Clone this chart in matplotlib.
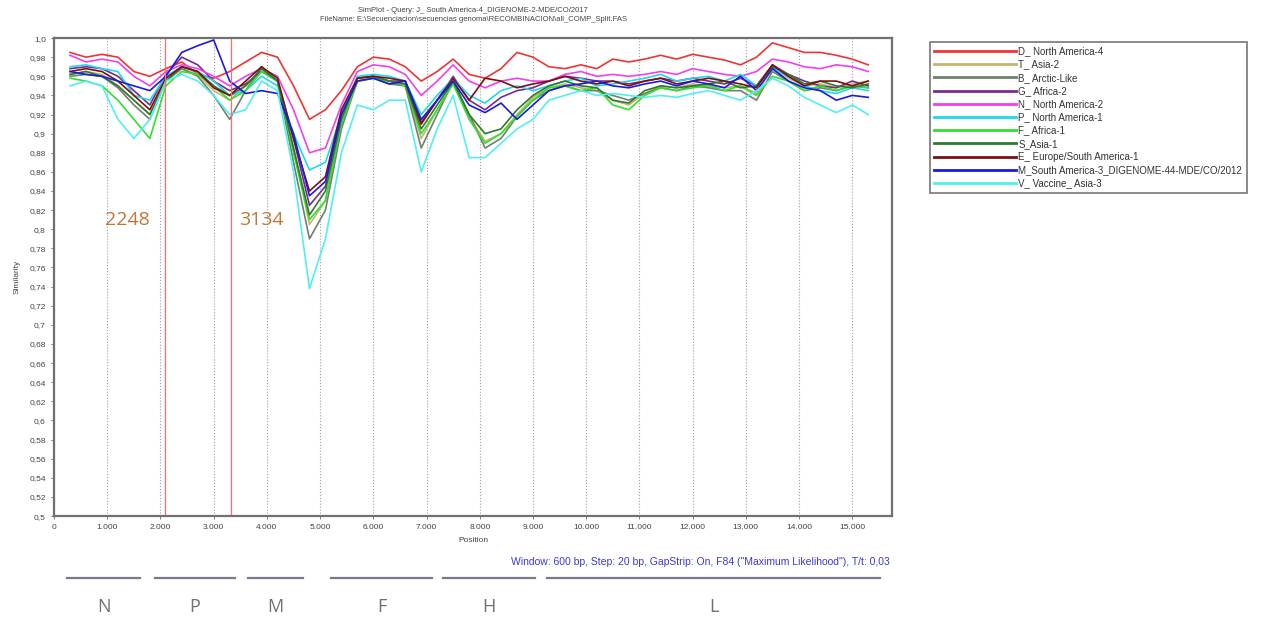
import matplotlib.pyplot as plt
from matplotlib.transforms import blended_transform_factory

plt.rcParams['font.family'] = ['Liberation Sans', 'DejaVu Sans']

pos = [300, 600, 900, 1200, 1500, 1800, 2100, 2400, 2700, 3000,
       3300, 3600, 3900, 4200, 4500, 4800, 5100, 5400, 5700, 6000,
       6300, 6600, 6900, 7200, 7500, 7800, 8100, 8400, 8700, 9000,
       9300, 9600, 9900, 10200, 10500, 10800, 11100, 11400, 11700, 12000,
       12300, 12600, 12900, 13200, 13500, 13800, 14100, 14400, 14700, 15000,
       15300]

d_na4 = [0.985, 0.980, 0.983, 0.980, 0.965, 0.960, 0.968, 0.975, 0.962, 0.958,
         0.965, 0.975, 0.985, 0.980, 0.950, 0.915, 0.925, 0.945, 0.970, 0.980,
         0.978, 0.970, 0.955, 0.965, 0.978, 0.962, 0.958, 0.968, 0.985, 0.980,
         0.970, 0.968, 0.972, 0.968, 0.978, 0.975, 0.978, 0.982, 0.978, 0.983,
         0.980, 0.977, 0.972, 0.980, 0.995, 0.990, 0.985, 0.985, 0.982, 0.978,
         0.972]
t_asia2 = [0.962, 0.965, 0.962, 0.950, 0.935, 0.920, 0.958, 0.968, 0.962, 0.945,
           0.935, 0.950, 0.968, 0.955, 0.885, 0.805, 0.830, 0.912, 0.955, 0.958,
           0.955, 0.950, 0.895, 0.925, 0.955, 0.918, 0.892, 0.900, 0.920, 0.938,
           0.948, 0.952, 0.948, 0.945, 0.935, 0.930, 0.942, 0.950, 0.948, 0.952,
           0.950, 0.948, 0.950, 0.942, 0.968, 0.958, 0.950, 0.952, 0.948, 0.952,
           0.955]
b_arctic = [0.960, 0.962, 0.960, 0.948, 0.930, 0.915, 0.955, 0.968, 0.960, 0.940,
            0.915, 0.945, 0.970, 0.955, 0.870, 0.790, 0.820, 0.905, 0.955, 0.958,
            0.952, 0.950, 0.885, 0.920, 0.955, 0.920, 0.885, 0.895, 0.918, 0.935,
            0.945, 0.950, 0.945, 0.945, 0.940, 0.935, 0.942, 0.948, 0.945, 0.950,
            0.948, 0.945, 0.945, 0.935, 0.965, 0.955, 0.945, 0.948, 0.945, 0.950,
            0.948]
g_africa2 = [0.968, 0.970, 0.968, 0.960, 0.945, 0.930, 0.962, 0.980, 0.972, 0.955,
             0.945, 0.952, 0.965, 0.955, 0.895, 0.825, 0.845, 0.920, 0.958, 0.960,
             0.955, 0.955, 0.912, 0.935, 0.960, 0.935, 0.925, 0.938, 0.945, 0.948,
             0.955, 0.960, 0.958, 0.955, 0.955, 0.952, 0.955, 0.958, 0.955, 0.958,
             0.955, 0.952, 0.958, 0.950, 0.972, 0.962, 0.955, 0.950, 0.948, 0.955,
             0.950]
n_na2 = [0.982, 0.975, 0.978, 0.975, 0.960, 0.950, 0.965, 0.972, 0.968, 0.960,
         0.950, 0.960, 0.968, 0.960, 0.925, 0.880, 0.885, 0.930, 0.965, 0.972,
         0.970, 0.962, 0.940, 0.955, 0.972, 0.955, 0.948, 0.955, 0.958, 0.955,
         0.955, 0.962, 0.965, 0.960, 0.962, 0.960, 0.962, 0.965, 0.962, 0.968,
         0.965, 0.962, 0.960, 0.965, 0.978, 0.975, 0.970, 0.968, 0.972, 0.970,
         0.965]
p_na1 = [0.970, 0.972, 0.968, 0.965, 0.940, 0.935, 0.960, 0.970, 0.965, 0.955,
         0.940, 0.945, 0.960, 0.950, 0.900, 0.862, 0.870, 0.920, 0.960, 0.962,
         0.960, 0.955, 0.920, 0.940, 0.958, 0.940, 0.932, 0.945, 0.950, 0.945,
         0.950, 0.955, 0.958, 0.950, 0.952, 0.955, 0.958, 0.962, 0.955, 0.958,
         0.960, 0.955, 0.962, 0.950, 0.968, 0.960, 0.950, 0.945, 0.942, 0.948,
         0.945]
f_africa1 = [0.958, 0.955, 0.950, 0.935, 0.915, 0.895, 0.950, 0.965, 0.962, 0.950,
             0.935, 0.945, 0.965, 0.955, 0.880, 0.810, 0.830, 0.910, 0.955, 0.958,
             0.955, 0.950, 0.900, 0.925, 0.952, 0.915, 0.890, 0.900, 0.918, 0.935,
             0.948, 0.950, 0.945, 0.948, 0.930, 0.925, 0.940, 0.948, 0.945, 0.948,
             0.950, 0.945, 0.950, 0.940, 0.960, 0.955, 0.945, 0.950, 0.945, 0.950,
             0.948]
s_asia1 = [0.962, 0.965, 0.960, 0.950, 0.935, 0.920, 0.955, 0.970, 0.965, 0.950,
           0.940, 0.950, 0.968, 0.955, 0.885, 0.815, 0.840, 0.915, 0.958, 0.960,
           0.955, 0.952, 0.905, 0.930, 0.955, 0.920, 0.900, 0.905, 0.925, 0.940,
           0.950, 0.955, 0.950, 0.948, 0.935, 0.932, 0.945, 0.950, 0.948, 0.950,
           0.952, 0.955, 0.948, 0.950, 0.970, 0.962, 0.952, 0.955, 0.950, 0.948,
           0.952]
e_eur = [0.965, 0.968, 0.965, 0.955, 0.940, 0.925, 0.958, 0.970, 0.965, 0.948,
         0.940, 0.955, 0.970, 0.958, 0.895, 0.840, 0.855, 0.925, 0.958, 0.960,
         0.958, 0.955, 0.910, 0.935, 0.958, 0.935, 0.958, 0.955, 0.948, 0.952,
         0.955, 0.960, 0.955, 0.952, 0.955, 0.950, 0.955, 0.958, 0.952, 0.955,
         0.958, 0.955, 0.952, 0.948, 0.972, 0.960, 0.950, 0.955, 0.955, 0.950,
         0.955]
m_sa3 = [0.965, 0.962, 0.960, 0.955, 0.950, 0.945, 0.960, 0.985, 0.992, 0.998,
         0.955, 0.942, 0.945, 0.942, 0.900, 0.835, 0.850, 0.920, 0.955, 0.958,
         0.952, 0.955, 0.915, 0.935, 0.955, 0.930, 0.922, 0.932, 0.915, 0.930,
         0.945, 0.950, 0.952, 0.955, 0.950, 0.948, 0.952, 0.955, 0.950, 0.955,
         0.952, 0.948, 0.960, 0.945, 0.968, 0.955, 0.948, 0.945, 0.935, 0.940,
         0.938]
v_vacc = [0.950, 0.955, 0.950, 0.915, 0.895, 0.915, 0.955, 0.962, 0.955, 0.940,
          0.920, 0.925, 0.955, 0.945, 0.860, 0.738, 0.790, 0.880, 0.930, 0.925,
          0.935, 0.935, 0.860, 0.905, 0.940, 0.875, 0.875, 0.890, 0.905, 0.915,
          0.935, 0.940, 0.945, 0.940, 0.942, 0.940, 0.938, 0.940, 0.938, 0.942,
          0.945, 0.940, 0.935, 0.945, 0.958, 0.950, 0.938, 0.930, 0.922, 0.930,
          0.920]

series = [
    ("D_ North America-4", d_na4, "#f03434"),
    ("T_ Asia-2", t_asia2, "#c8b46e"),
    ("B_ Arctic-Like", b_arctic, "#6e806e"),
    ("G_ Africa-2", g_africa2, "#7a2a8a"),
    ("N_ North America-2", n_na2, "#f040f0"),
    ("P_ North America-1", p_na1, "#20d8f0"),
    ("F_ Africa-1", f_africa1, "#30e030"),
    ("S_Asia-1", s_asia1, "#2e7a2e"),
    ("E_ Europe/South America-1", e_eur, "#7a1010"),
    ("M_South America-3_DIGENOME-44-MDE/CO/2012", m_sa3, "#1a1ae0"),
    ("V_ Vaccine_ Asia-3", v_vacc, "#50f0f0"),
]

breakpoints = [2080, 3320]
breakpoint_labels = ["2248", "3134"]
label_x = [1370, 3900]

genes = ["N", "P", "M", "F", "H", "L"]
gene_start = [250, 1900, 3640, 5200, 7300, 9270]
gene_end = [1610, 3400, 4670, 7110, 9040, 15530]

fig = plt.figure(figsize=(12.66, 6.24), dpi=100)
ax = fig.add_axes([0.0427, 0.173, 0.662, 0.766])

for name, vals, col in series:
    ax.plot(pos, vals, color=col, lw=1.2, label=name)

for bp in breakpoints:
    ax.axvline(bp, color="#ff6a6a", lw=0.9)
for txt, lx in zip(breakpoint_labels, label_x):
    ax.text(lx, 0.81, txt, color="#c07838", fontsize=14, ha="center", va="center",
            family="Open Sans")

ax.set_xlim(0, 15750)
ax.set_ylim(0.5, 1.0)
ax.set_xticks(range(0, 15001, 1000))
ax.set_xticklabels(["0"] + [f"{k}.000" for k in range(1, 16)], fontsize=6, color="#444444")
yt = [round(0.5 + 0.02 * i, 2) for i in range(26)]
ax.set_yticks(yt)
ax.set_yticklabels([f"{v:g}".replace(".", ",") if v < 1 else "1,0" for v in yt],
                   fontsize=6, color="#444444")
ax.tick_params(length=2, width=0.6, color="#666666", pad=4)
ax.grid(axis="x", ls=":", color="#a0a0a0", lw=0.8)
for s in ax.spines.values():
    s.set_color("#707070")
    s.set_linewidth(1.6)

ax.set_xlabel("Position", fontsize=6, color="#444444", labelpad=4)
ax.set_ylabel("Similarity", fontsize=6, color="#444444", labelpad=6)
ax.set_title("SimPlot - Query: J_ South America-4_DIGENOME-2-MDE/CO/2017\n"
             "FileName: E:\\Secuenciacion\\secuencias genoma\\RECOMBINACION\\all_COMP_Split.FAS",
             fontsize=5.5, color="#444444", pad=12, linespacing=1.5)

fig.text(0.703, 0.099,
         'Window: 600 bp, Step: 20 bp, GapStrip: On, F84 ("Maximum Likelihood"), T/t: 0,03',
         fontsize=7.5, color="#3a3ad0", ha="right", va="center")

trans = blended_transform_factory(ax.transData, fig.transFigure)
for g, a, b in zip(genes, gene_start, gene_end):
    ax.plot([a, b], [0.074, 0.074], transform=trans, color="#7a7a8a", lw=1.6, clip_on=False)
    ax.text((a + b) / 2, 0.027, g, transform=trans, fontsize=13, color="#707070",
            ha="center", va="center", family="Open Sans")

leg = fig.legend(loc="upper left", bbox_to_anchor=(0.7346, 0.9327), borderaxespad=0,
                 fontsize=7, handlelength=8.4, labelspacing=0.33, borderpad=0.45,
                 handletextpad=0.25, frameon=True, fancybox=False, edgecolor="#555555")
leg.get_frame().set_linewidth(1.2)
for text in leg.get_texts():
    text.set_color("#333333")
for line in leg.get_lines():
    line.set_linewidth(2)

fig.savefig("out.png", dpi=100)
